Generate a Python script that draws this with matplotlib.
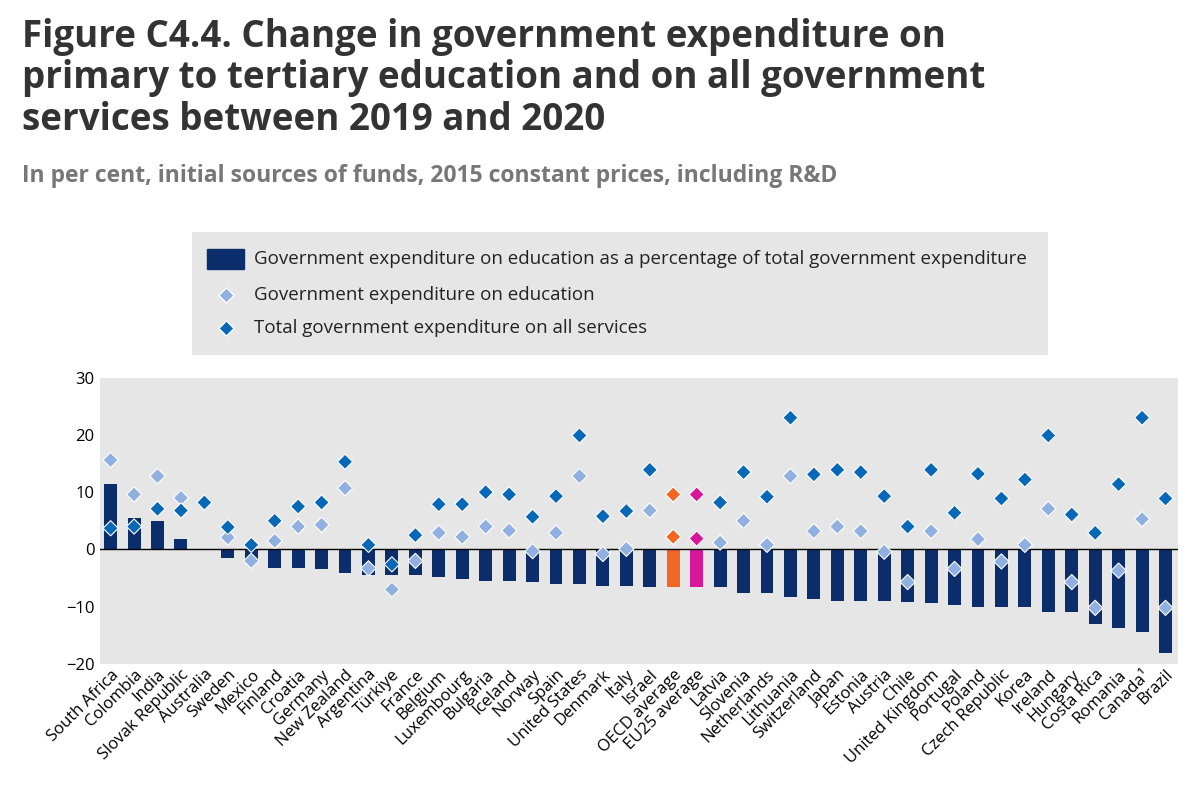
import matplotlib
matplotlib.use("Agg")
import matplotlib.pyplot as plt
import numpy as np

plt.rcParams['font.family'] = ['Open Sans', 'DejaVu Sans']

countries = ["South Africa","Colombia","India","Slovak Republic","Australia","Sweden","Mexico","Finland",
 "Croatia","Germany","New Zealand","Argentina","Türkiye","France","Belgium","Luxembourg","Bulgaria",
 "Iceland","Norway","Spain","United States","Denmark","Italy","Israel","OECD average","EU25 average",
 "Latvia","Slovenia","Netherlands","Lithuania","Switzerland","Japan","Estonia","Austria","Chile",
 "United Kingdom","Portugal","Poland","Czech Republic","Korea","Ireland","Hungary","Costa Rica",
 "Romania","Canada¹","Brazil"]
share = [11.5,5.5,5.0,1.8,0.0,-1.5,-2.0,-3.3,-3.3,-3.4,-4.1,-4.4,-4.4,-4.4,-4.8,-5.2,-5.5,-5.5,-5.6,-6.0,
 -6.0,-6.3,-6.3,-6.5,-6.5,-6.5,-6.6,-7.6,-7.6,-8.3,-8.7,-9.0,-9.0,-9.0,-9.1,-9.4,-9.7,-10.0,-10.1,-10.1,
 -10.9,-10.9,-13.0,-13.7,-14.5,-18.0]
edu = [15.6,9.6,12.8,9.0,np.nan,2.1,-2.0,1.5,4.0,4.3,10.7,-3.3,-7.0,-2.0,2.9,2.2,4.0,3.3,-0.3,2.9,
 12.8,-0.8,0.1,6.8,2.2,1.9,1.2,5.0,0.8,12.8,3.2,4.0,3.2,-0.4,-5.7,3.2,-3.4,1.8,-2.1,0.8,
 7.1,-5.7,-10.2,-3.7,5.3,-10.2]
total = [3.7,4.0,7.1,6.8,8.2,3.9,0.8,5.0,7.5,8.2,15.3,0.8,-2.6,2.5,7.9,7.9,10.0,9.6,5.7,9.3,
 19.9,5.8,6.7,13.9,9.6,9.6,8.2,13.5,9.2,23.0,13.1,13.9,13.5,9.3,4.0,13.9,6.4,13.2,8.9,12.2,
 19.9,6.1,2.9,11.4,23.0,8.9]

BG = "#e6e6e6"
fig = plt.figure(figsize=(12, 8), dpi=100)
ax = fig.add_axes([0.083, 0.17, 0.899, 0.358])
ax.set_facecolor(BG)
x = np.arange(len(countries))
bcol = ["#0b2d6b"] * len(x)
lcol = ["#8fb0e0"] * len(x)
dcol = ["#0868b8"] * len(x)
io, ie = countries.index("OECD average"), countries.index("EU25 average")
bcol[io] = "#f26522"; lcol[io] = "#f26522"; dcol[io] = "#f26522"
bcol[ie] = "#d6179a"; lcol[ie] = "#d6179a"; dcol[ie] = "#d6179a"
ax.bar(x, share, width=0.55, color=bcol, zorder=2)
ax.scatter(x, edu, marker="D", s=60, c=lcol, edgecolors="white", linewidths=0.8, zorder=3)
ax.scatter(x, total, marker="D", s=60, c=dcol, edgecolors="white", linewidths=0.8, zorder=4)
ax.axhline(0, color="black", lw=1, zorder=2.5)
ax.set_xlim(-0.47, len(x) - 0.45)
ax.set_ylim(-20, 30)
ax.set_yticks([-20, -10, 0, 10, 20, 30])
ax.tick_params(axis="y", length=0, labelsize=12)
ax.set_xticks(x)
ax.set_xticklabels(countries, rotation=45, ha="right", rotation_mode="anchor", fontsize=12)
ax.tick_params(axis="x", length=0, pad=2)
for s in ax.spines.values():
    s.set_visible(False)

fig.text(0.018, 0.978, "Figure C4.4. Change in government expenditure on\nprimary to tertiary education and on all government\nservices between 2019 and 2020",
         fontsize=26.5, fontweight="bold", color="#333333", va="top", linespacing=1.12)
fig.text(0.018, 0.795, "In per cent, initial sources of funds, 2015 constant prices, including R&D",
         fontsize=16.5, fontweight="bold", color="#777777", va="top")

lax = fig.add_axes([0.16, 0.556, 0.713, 0.154])
lax.set_facecolor(BG)
lax.set_xlim(0, 1); lax.set_ylim(0, 1)
lax.set_xticks([]); lax.set_yticks([])
for s in lax.spines.values():
    s.set_visible(False)
lax.add_patch(plt.Rectangle((0.018, 0.7), 0.043, 0.16, color="#0b2d6b"))
lax.scatter([0.04], [0.49], marker="D", s=60, c="#8fb0e0", edgecolors="white")
lax.scatter([0.04], [0.22], marker="D", s=60, c="#0868b8", edgecolors="white")
labels = ["Government expenditure on education as a percentage of total government expenditure",
          "Government expenditure on education", "Total government expenditure on all services"]
for yy, t in zip([0.78, 0.49, 0.22], labels):
    lax.text(0.072, yy, t, fontsize=13.5, va="center", color="#222222")

fig.savefig("out.png", facecolor="white")
